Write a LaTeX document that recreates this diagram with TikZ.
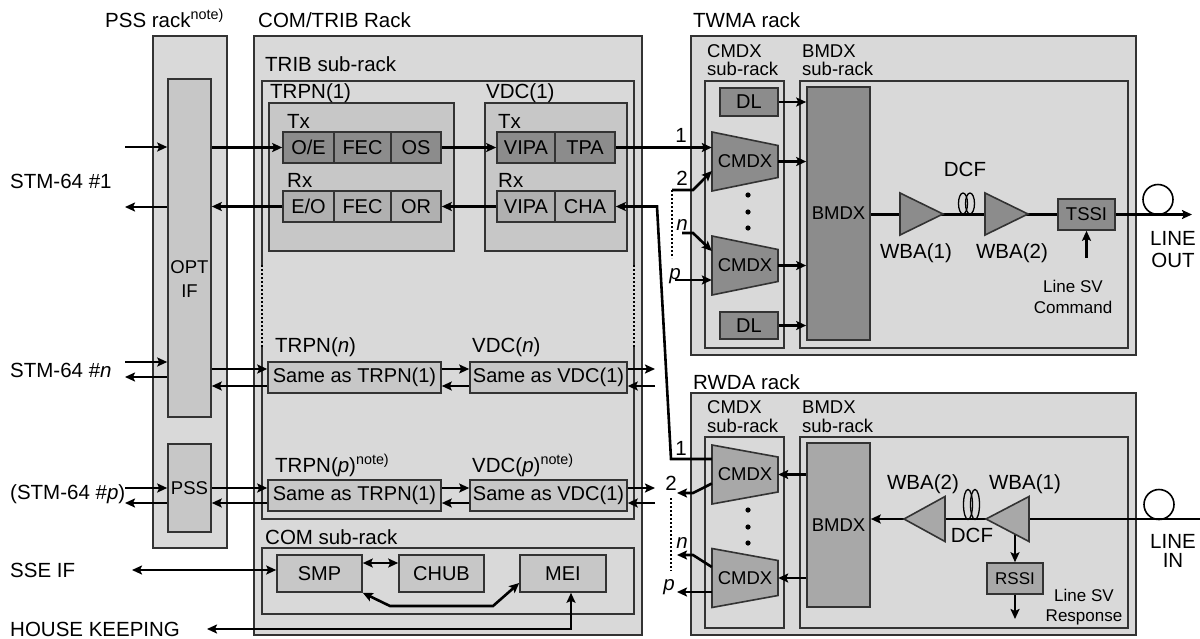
\documentclass[tikz,border=0pt]{standalone}
\usepackage{fontspec}
\setmainfont{Liberation Sans}
\usetikzlibrary{arrows.meta}

\definecolor{rackgray}{gray}{0.85}
\definecolor{boxgray}{gray}{0.78}
\definecolor{rxgray}{gray}{0.69}
\definecolor{mdgray}{gray}{0.66}
\definecolor{dkgray}{gray}{0.55}
\newcommand\fsa{\fontsize{20.5}{24}\selectfont}
\newcommand\fsb{\fontsize{20}{24}\selectfont}
\newcommand\fsc{\fontsize{18.5}{21}\selectfont}
\newcommand\fsd{\fontsize{17}{19}\selectfont}

\begin{document}
\begin{tikzpicture}[x=1pt,y=-1pt,
  rack/.style={draw=black!80,fill=rackgray,line width=1.6},
  frame/.style={draw=black!80,line width=1.6},
  blk/.style={draw=black!80,line width=1.6,inner sep=0pt,font=\fsb},
  lbl/.style={inner sep=0pt,font=\fsa,anchor=base west},
  sml/.style={inner sep=0pt,font=\fsc,anchor=base west},
  num/.style={inner sep=0pt,font=\fsa,anchor=base},
  sig/.style={line width=2.6,-{Stealth[length=10pt,width=9pt,inset=2pt]}},
  sigs/.style={line width=2.6,{Stealth[length=10pt,width=9pt,inset=2pt]}-{Stealth[length=10pt,width=9pt,inset=2pt]}},
  wire/.style={line width=2.6},
  dots/.style={line width=1.2,dash pattern=on 2pt off 2pt}]
\useasboundingbox (0,0) rectangle (1200,638);
% racks
\draw[rack] (153,36) rectangle (227,548);
\draw[rack] (254,36) rectangle (642,635);
\draw[rack] (691,36) rectangle (1136,355);
\draw[rack] (691,393) rectangle (1136,635);
% sub-racks
\draw[frame] (262,265) |- (634,81) -- (634,265);
\draw[frame] (262,347) |- (634,519) -- (634,347);
\draw[dots] (262,265) -- (262,347) (634,265) -- (634,347);
\draw[frame] (262,548) rectangle (634,614);
\draw[frame] (705,81) rectangle (784,348);
\draw[frame] (800,81) rectangle (1128,348);
\draw[frame] (705,437) rectangle (784,628);
\draw[frame] (800,437) rectangle (1128,628);
\draw[frame,fill=boxgray] (269,103) rectangle (454,251);
\draw[frame,fill=boxgray] (485,103) rectangle (627,251);
% titles
\node[lbl] (tpss) at (105,27) {PSS rack\textsuperscript{note)}};
\node[lbl] (tcom) at (258,27) {COM/TRIB Rack};
\node[lbl] (ttwma) at (693,27) {TWMA rack};
\node[lbl] (trwda) at (693,389) {RWDA rack};
\node[lbl] (ttrib) at (265,71) {TRIB sub-rack};
\node[lbl] (tcsub) at (265,544) {COM sub-rack};
\node[lbl] (ttrpn1) at (270,98) {TRPN(1)};
\node[lbl] (tvdc1) at (486,98) {VDC(1)};
\node[lbl] (ttx1) at (287,128) {Tx};
\node[lbl] (ttx2) at (498,128) {Tx};
\node[lbl] (trx1) at (287,187) {Rx};
\node[lbl] (trx2) at (498,187) {Rx};
\node[lbl] (ttrpnn) at (275,352) {TRPN(\textit{n})};
\node[lbl] (tvdcn) at (472,352) {VDC(\textit{n})};
\node[lbl] (ttrpnp) at (275,472) {TRPN(\textit{p})\textsuperscript{note)}};
\node[lbl] (tvdcp) at (472,472) {VDC(\textit{p})\textsuperscript{note)}};
\node[sml] (tcmdx1) at (707,57) {CMDX};
\node[sml] (tcmdx2) at (707,75) {sub-rack};
\node[sml] (tbmdx1) at (802,57) {BMDX};
\node[sml] (tbmdx2) at (802,75) {sub-rack};
\node[sml] (rcmdx1) at (707,413) {CMDX};
\node[sml] (rcmdx2) at (707,432) {sub-rack};
\node[sml] (rbmdx1) at (802,413) {BMDX};
\node[sml] (rbmdx2) at (802,432) {sub-rack};
% outside labels
\node[lbl] (stm1) at (10,188) {STM-64 \#1};
\node[lbl] (stmn) at (10,377) {STM-64 \#\textit{n}};
\node[lbl] (stmp) at (10,499) {(STM-64 \#\textit{p})};
\node[lbl] (sseif) at (10,577) {SSE IF};
\node[lbl] (house) at (10,636) {HOUSE KEEPING};
% PSS rack
\node[blk,fill=boxgray,minimum width=43pt,minimum height=338pt] (optif) at (189.5,248) {};
\node[num,font=\fsc] (optlbl) at (189.5,273) {OPT};
\node[num,font=\fsc] (iflbl) at (189.5,297) {IF};
\node[blk,fill=boxgray,minimum width=43pt,minimum height=88pt,font=\fsc] (pss) at (189.5,488) {PSS};
% TRPN(1) and VDC(1)
\node[blk,fill=dkgray,minimum width=51pt,minimum height=31pt] (oe) at (308.5,147.5) {O/E};
\node[blk,fill=dkgray,minimum width=57pt,minimum height=31pt] (fect) at (362.5,147.5) {FEC};
\node[blk,fill=dkgray,minimum width=50pt,minimum height=31pt] (os) at (416,147.5) {OS};
\node[blk,fill=rxgray,minimum width=51pt,minimum height=31pt] (eo) at (308.5,206.5) {E/O};
\node[blk,fill=rxgray,minimum width=57pt,minimum height=31pt] (fecr) at (362.5,206.5) {FEC};
\node[blk,fill=rxgray,minimum width=50pt,minimum height=31pt] (or) at (416,206.5) {OR};
\node[blk,fill=dkgray,minimum width=58pt,minimum height=31pt] (vipat) at (526,147.5) {VIPA};
\node[blk,fill=dkgray,minimum width=60pt,minimum height=31pt] (tpa) at (585,147.5) {TPA};
\node[blk,fill=rxgray,minimum width=58pt,minimum height=31pt] (vipar) at (526,206.5) {VIPA};
\node[blk,fill=rxgray,minimum width=60pt,minimum height=31pt] (cha) at (585,206.5) {CHA};
% TRPN(n), TRPN(p)
\node[blk,fill=boxgray,minimum width=173pt,minimum height=31pt] (trpnn) at (354.5,377.5) {Same as TRPN(1)};
\node[blk,fill=boxgray,minimum width=157pt,minimum height=31pt] (vdcn) at (548.5,377.5) {Same as VDC(1)};
\node[blk,fill=boxgray,minimum width=173pt,minimum height=31pt] (trpnp) at (354.5,495.5) {Same as TRPN(1)};
\node[blk,fill=boxgray,minimum width=157pt,minimum height=31pt] (vdcp) at (548.5,495.5) {Same as VDC(1)};
% COM sub-rack
\node[blk,fill=boxgray,minimum width=85pt,minimum height=37pt] (smp) at (319.5,573.5) {SMP};
\node[blk,fill=boxgray,minimum width=85pt,minimum height=37pt] (chub) at (441.5,573.5) {CHUB};
\node[blk,fill=boxgray,minimum width=86pt,minimum height=37pt] (mei) at (563,573.5) {MEI};
% TWMA rack
\node[blk,fill=dkgray,minimum width=58pt,minimum height=28pt] (dlt) at (749,102) {DL};
\node[blk,fill=dkgray,minimum width=58pt,minimum height=27pt] (dlb) at (749,325.5) {DL};
\node[blk,fill=dkgray,minimum width=63pt,minimum height=253pt,font=\fsc] (bmdxt) at (838.5,213.5) {BMDX};
\node[blk,fill=dkgray,minimum width=57pt,minimum height=31pt,font=\fsc] (tssi) at (1086.5,214.5) {TSSI};
% RWDA rack
\node[blk,fill=mdgray,minimum width=63pt,minimum height=164pt,font=\fsc] (bmdxr) at (838.5,525) {BMDX};
\node[blk,fill=mdgray,minimum width=56pt,minimum height=31pt,font=\fsd] (rssi) at (1015,578.5) {RSSI};
% CMDX
\foreach \nm/\cy/\hh/\cl in {tc1/161.5/16/dkgray, tc2/265.5/16/dkgray, rc1/474.5/17.5/mdgray, rc2/578/17.5/mdgray} {
  \draw[frame,fill=\cl] (712,\cy-29.5) -- (778,\cy-\hh) -- (778,\cy+\hh) -- (712,\cy+29.5) -- cycle;
  \node[inner sep=0pt,font=\fsc,minimum width=66pt,minimum height=59pt] (\nm) at (745,\cy) {CMDX};
}
\foreach \cy in {195,212,228,510,527,543}
  \fill (748,\cy) circle (2.6pt);
% free ends
\coordinate (s1in) at (125,147);
\coordinate (s1out) at (125,207);
\coordinate (snin) at (125,362);
\coordinate (snout) at (125,377);
\coordinate (spin) at (125,488);
\coordinate (spout) at (125,503);
\coordinate (sse) at (132,570);
\coordinate (hk) at (207,629);
\coordinate (rgap) at (655,0);
\coordinate (nA) at ([yshift=8.5pt]trpnn.west);
\coordinate (nB) at ([yshift=-8.5pt]trpnn.west);
\coordinate (pA) at ([yshift=7.5pt]trpnp.west);
\coordinate (pB) at ([yshift=-7.5pt]trpnp.west);
% STM-64 #1
\draw[sig] (s1in) -- (s1in -| optif.west);
\draw[sig] (optif.west |- s1out) -- (s1out);
\draw[sig] (optif.east |- oe.west) -- (oe.west);
\draw[sig] (eo.west) -- (optif.east |- eo.west);
\draw[sig] (os.east) -- (vipat.west);
\draw[sig] (vipar.west) -- (or.east);
% STM-64 #n
\draw[sig] (snin) -- (snin -| optif.west);
\draw[sig] (optif.west |- snout) -- (snout);
\draw[sig] (optif.east |- nA) -- (nA);
\draw[sig] (nB) -- (optif.east |- nB);
\draw[sig] (nA -| trpnn.east) -- (nA -| vdcn.west);
\draw[sig] (nB -| vdcn.west) -- (nB -| trpnn.east);
\draw[sig] (nA -| vdcn.east) -- (nA -| rgap);
\draw[sig] (nB -| rgap) -- (nB -| vdcn.east);
% STM-64 #p
\draw[sig] (spin) -- (spin -| pss.west);
\draw[sig] (pss.west |- spout) -- (spout);
\draw[sig] (pss.east |- pA) -- (pA);
\draw[sig] (pB) -- (pss.east |- pB);
\draw[sig] (pA -| trpnp.east) -- (pA -| vdcp.west);
\draw[sig] (pB -| vdcp.west) -- (pB -| trpnp.east);
\draw[sig] (pA -| vdcp.east) -- (pA -| rgap);
\draw[sig] (pB -| rgap) -- (pB -| vdcp.east);
% COM sub-rack
\coordinate (mA) at (390,606);
\coordinate (mB) at (493,606);
\draw[sigs] (sse) -- (sse -| smp.west);
\draw[sigs] ([yshift=10.5pt]smp.east) -- ([yshift=10.5pt]chub.west);
\draw[sigs] (smp.south east) -- (mA) -- (mB) -- ([yshift=-9.5pt]mei.west);
\draw[sigs] ([xshift=8pt]mei.south) |- (hk);
% TWMA inputs
\coordinate (t2) at (672,190);
\coordinate (t2end) at (672,258);
\coordinate (tn) at (682,233);
\coordinate (tp) at (675,280);
\draw[sig] (tpa.east) -- (tpa.east -| tc1.west);
\draw[sig] (t2) -- ([xshift=21pt]t2) -- ([yshift=-9.5pt]tc1.west);
\draw[dots] (t2) -- (t2end);
\draw[sig] (tn) -- ([xshift=11pt]tn) -- ([yshift=14.5pt]tc2.west);
\draw[sig] (tp) -- (tp -| tc2.west);
\node[num] (l1t) at (681,142) {1};
\node[num] (l2t) at (682,185) {2};
\node[num] (lnt) at (682,230) {\textit{n}};
\node[num] (lpt) at (675,279) {\textit{p}};
\draw[sig] (dlt.east) -- (dlt.east -| bmdxt.west);
\draw[sig] (tc1.east) -- (tc1.east -| bmdxt.west);
\draw[sig] (tc2.east) -- (tc2.east -| bmdxt.west);
\draw[sig] (dlb.east) -- (dlb.east -| bmdxt.west);
% TWMA line
\coordinate (lout) at (1192,214.5);
\coordinate (cmd) at (1088,258);
\draw[wire] (bmdxt.east |- tssi.west) -- (tssi.west);
\draw[sig] (tssi.east) -- (lout);
\draw[sig] (cmd -| tssi.south) -- (tssi.south);
\draw[line width=1.6] (1158,199.5) circle (15pt);
\node[num] (dcft) at (965,176) {DCF};
\node[num] (wba1t) at (916,258) {WBA(1)};
\node[num] (wba2t) at (1012,258) {WBA(2)};
\node[num] (lo1) at (1173,245) {LINE};
\node[num] (lo2) at (1173,267) {OUT};
\node[num,font=\fsd] (cmd1) at (1073,292) {Line SV};
\node[num,font=\fsd] (cmd2) at (1073,313) {Command};
% RWDA outputs
\coordinate (bendA) at (671,459);
\coordinate (bendB) at (657,207);
\coordinate (r2) at (677,493);
\coordinate (rdot) at (671,571);
\coordinate (rn) at (677,555);
\coordinate (rp) at (677,592);
\draw[sig] (rc1.west |- bendA) -- (bendA) -- (bendB |- cha.east) -- (cha.east);
\draw[sig] ([yshift=-9pt]rc1.west) -- ([xshift=16pt]r2) -- (r2);
\draw[dots] ([shift={(-6pt,-5pt)}]r2) -- (rdot);
\draw[sig] ([yshift=11pt]rc2.west) -- ([xshift=16pt]rn) -- (rn);
\draw[sig] (rc2.west |- rp) -- (rp);
\node[num] (l1r) at (681,455) {1};
\node[num] (l2r) at (671,490) {2};
\node[num] (lnr) at (682,548) {\textit{n}};
\node[num] (lpr) at (669,590) {\textit{p}};
\draw[sig] (bmdxr.west |- rc1.east) -- (rc1.east);
\draw[sig] (bmdxr.west |- rc2.east) -- (rc2.east);
% RWDA line
\coordinate (lin) at (1200,519);
\coordinate (rtap) at (1015,533);
\coordinate (resp) at (1015,619);
\draw[sig] (lin) -- (lin -| bmdxr.east);
\draw[sig] (rtap) -- (rssi.north);
\draw[sig] (rssi.south) -- (resp);
\draw[line width=1.6] (1159,504.5) circle (15pt);
\node[num] (dcfr) at (972,542) {DCF};
\node[num] (wba2r) at (923,489) {WBA(2)};
\node[num] (wba1r) at (1025,489) {WBA(1)};
\node[num] (li1) at (1173,548) {LINE};
\node[num] (li2) at (1173,567) {IN};
\node[num,font=\fsd] (rsp1) at (1084,601) {Line SV};
\node[num,font=\fsd] (rsp2) at (1084,621) {Response};
% amplifiers and DCF
\foreach \bx/\ax/\cy/\hh/\cl in {900/943/214/21/dkgray, 985/1028/214/21/dkgray, 945/904/519/22.5/mdgray, 1029/986/519/22.5/mdgray}
  \draw[frame,fill=\cl] (\bx,\cy-\hh) -- (\ax,\cy) -- (\bx,\cy+\hh) -- cycle;
\foreach \cx in {963,970}
  \draw[line width=1.3] (\cx,203.5) ellipse (4.5pt and 10.5pt);
\foreach \cx in {968,975}
  \draw[line width=1.3] (\cx,504.5) ellipse (4.5pt and 15pt);
\end{tikzpicture}
\end{document}
